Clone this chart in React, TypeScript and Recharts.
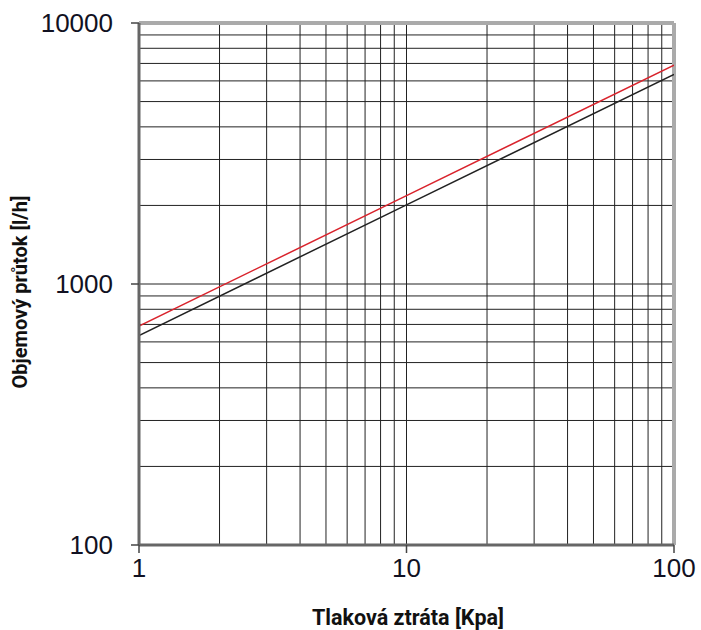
import React from 'react';
import { LineChart, Line, XAxis, YAxis, ReferenceLine } from 'recharts';

// pressure drop [kPa]
const pressure = [1, 10, 100];
// flow rates [l/h]
const redFlow = [690, 2180, 6900];
const blackFlow = [635, 2010, 6350];

const xTicks = [1, 10, 100];
const yTicks = [100, 1000, 10000];
const xGrid = [2, 3, 4, 5, 6, 7, 8, 9, 10, 20, 30, 40, 50, 60, 70, 80, 90];
const yGrid = [200, 300, 400, 500, 600, 700, 800, 900, 1000, 2000, 3000, 4000, 5000, 6000, 7000, 8000, 9000];

const data = pressure.map((p, i) => ({ p, red: redFlow[i], black: blackFlow[i] }));

const tickStyle = { fontFamily: 'Liberation Sans, Arial, sans-serif', fontSize: 26, fill: '#111122' };
const labelFont = 'Roboto, sans-serif';

export default function App() {
  return (
    <div style={{ position: 'absolute', left: 0, top: 0, background: '#fff' }}>
      <LineChart width={701} height={630} data={data} margin={{ top: 23, right: 27, left: 0, bottom: 0 }}>
        <XAxis
          dataKey="p"
          type="number"
          scale="log"
          domain={[1, 100]}
          ticks={xTicks}
          allowDataOverflow
          height={85}
          tick={tickStyle}
          tickSize={8}
          tickMargin={6}
          tickLine={{ stroke: '#444', strokeWidth: 1.5 }}
          axisLine={{ stroke: '#666', strokeWidth: 3 }}
          label={{
            content: () => (
              <text x={408} y={625} textAnchor="middle" fontFamily={labelFont} fontWeight="bold" fontSize={21.5} fill="#111">
                Tlaková ztráta [Kpa]
              </text>
            ),
          }}
        />
        <YAxis
          type="number"
          scale="log"
          domain={[100, 10000]}
          ticks={yTicks}
          allowDataOverflow
          width={139}
          tick={tickStyle}
          tickSize={8}
          tickMargin={18}
          tickLine={{ stroke: '#444', strokeWidth: 1.5 }}
          axisLine={{ stroke: '#666', strokeWidth: 3 }}
          label={{
            content: () => (
              <text x={27} y={292} transform="rotate(-90 27 292)" textAnchor="middle" fontFamily={labelFont} fontWeight="bold" fontSize={20} fill="#111">
                Objemový průtok [l/h]
              </text>
            ),
          }}
        />
        {xGrid.map((v) => (
          <ReferenceLine key={'x' + v} x={v} stroke="#222" strokeWidth={1} />
        ))}
        {yGrid.map((v) => (
          <ReferenceLine key={'y' + v} y={v} stroke="#222" strokeWidth={1} />
        ))}
        <ReferenceLine y={10000} stroke="#aaa" strokeWidth={4} />
        <ReferenceLine x={100} stroke="#aaa" strokeWidth={4} />
        <Line dataKey="black" type="linear" stroke="#222" strokeWidth={1.5} dot={false} isAnimationActive={false} />
        <Line dataKey="red" type="linear" stroke="#d9232c" strokeWidth={1.5} dot={false} isAnimationActive={false} />
      </LineChart>
    </div>
  );
}
